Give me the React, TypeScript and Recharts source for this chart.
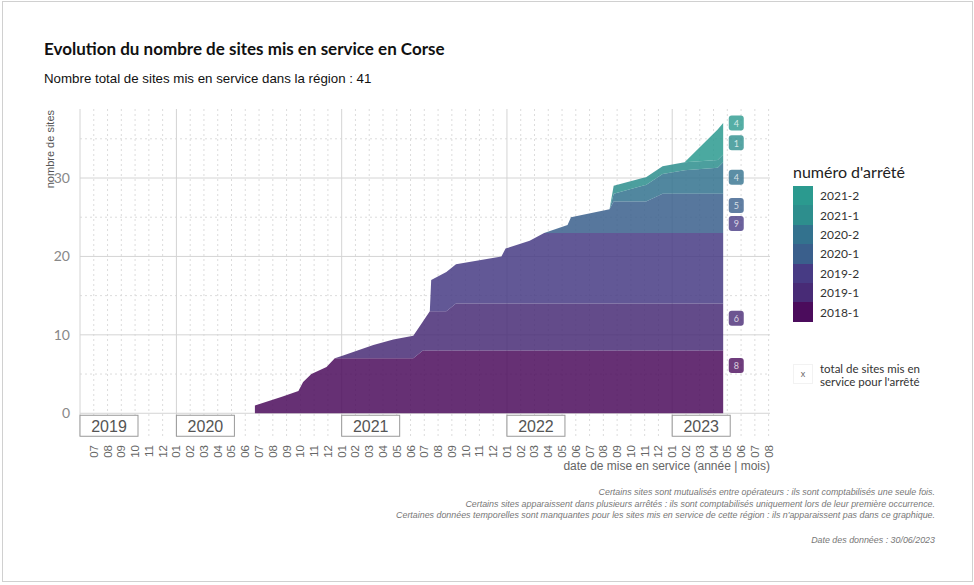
import React from 'react';
import {
  AreaChart,
  Area,
  XAxis,
  YAxis,
  CartesianGrid,
  ReferenceDot
} from 'recharts';

// months since Jan 2019 (0 = 2019-01)
const dates = [17.7, 19.66, 20.86, 21.2, 21.8, 22.9, 23.5, 24.0, 26.3, 27.75, 29.2, 29.9, 30.4, 30.5, 31.6, 32.3, 35.6, 35.9, 37.65, 38.7, 40.4, 40.65, 43.45, 43.75, 45.85, 46.1, 47.3, 48.9, 51.3, 51.7];

// cumulative sites per arrêté at each date
const s2018_1 = [1, 2.1, 2.85, 4, 5, 5.9, 7, 7, 7, 7, 7, 8, 8, 8, 8, 8, 8, 8, 8, 8, 8, 8, 8, 8, 8, 8, 8, 8, 8, 8];
const s2019_1 = [0, 0, 0, 0, 0, 0, 0, 0.3, 1.7, 2.4, 2.9, 3.7, 5, 5, 5, 6, 6, 6, 6, 6, 6, 6, 6, 6, 6, 6, 6, 6, 6, 6];
const s2019_2 = [0, 0, 0, 0, 0, 0, 0, 0, 0, 0, 0, 0, 0, 4, 5, 5, 6, 7, 8, 9, 9, 9, 9, 9, 9, 9, 9, 9, 9, 9];
const s2020_1 = [0, 0, 0, 0, 0, 0, 0, 0, 0, 0, 0, 0, 0, 0, 0, 0, 0, 0, 0, 0, 1, 2, 3, 4, 4, 4, 5, 5, 5, 5];
const s2020_2 = [0, 0, 0, 0, 0, 0, 0, 0, 0, 0, 0, 0, 0, 0, 0, 0, 0, 0, 0, 0, 0, 0, 0, 1, 2, 2.1, 2.5, 3, 3.3, 4];
const s2021_1 = [0, 0, 0, 0, 0, 0, 0, 0, 0, 0, 0, 0, 0, 0, 0, 0, 0, 0, 0, 0, 0, 0, 0, 1, 1, 1, 1, 1, 1, 1];
const s2021_2 = [0, 0, 0, 0, 0, 0, 0, 0, 0, 0, 0, 0, 0, 0, 0, 0, 0, 0, 0, 0, 0, 0, 0, 0, 0, 0, 0, 0, 3.9, 4];

const arretes = ['2018-1', '2019-1', '2019-2', '2020-1', '2020-2', '2021-1', '2021-2'];
const series = [s2018_1, s2019_1, s2019_2, s2020_1, s2020_2, s2021_1, s2021_2];
const colors = ['#4b0c5c', '#482b76', '#473b84', '#3a5f8c', '#33728e', '#2d8e8d', '#2b9a8f'];

// totals shown in the boxes on the right, and where they sit (sites)
const totals = [8, 6, 9, 5, 4, 1, 4];
const totalAt = [6.1, 12.1, 24.2, 26.5, 30.1, 34.5, 37.0];

const years = ['2019', '2020', '2021', '2022', '2023'];
const yearStart = [5, 12, 24, 36, 48];
const monthTicks = Array.from({ length: 50 }, (_, i) => i + 6);

const footnotes = [
  'Certains sites sont mutualisés entre opérateurs : ils sont comptabilisés une seule fois.',
  'Certains sites apparaissent dans plusieurs arrêtés : ils sont comptabilisés uniquement lors de leur première occurrence.',
  'Certaines données temporelles sont manquantes pour les sites mis en service de cette région : ils n\'apparaissent pas dans ce graphique.'
];

const data = dates.map((t, i) => {
  const row: Record<string, number> = { t };
  arretes.forEach((a, k) => { row[a] = series[k][i]; });
  return row;
});

const geo = 'Lato, "Noto Sans", sans-serif';
const arial = '"Liberation Sans", Arial, sans-serif';

const MonthTick = (props: any) => {
  const { x, y, payload } = props;
  const m = String((payload.value % 12) + 1).padStart(2, '0');
  return (
    <text x={x} y={y} transform={`rotate(-90, ${x}, ${y})`} textAnchor="end" dominantBaseline="central"
      fontSize={11.5} fill="#666" fontFamily={arial}>{m}</text>
  );
};

const App: React.FC = () => {
  return (
    <div style={{ position: 'absolute', left: 0, top: 0, width: 974, height: 585, background: '#fff' }}>
      <div style={{ position: 'absolute', left: 2, top: 1, width: 969, height: 579, border: '1px solid #d0d0d0' }} />
      <div style={{ position: 'absolute', left: 44, top: 38, fontFamily: geo, fontWeight: 700, fontSize: 17, color: '#111', whiteSpace: 'nowrap' }}>
        Evolution du nombre de sites mis en service en Corse
      </div>
      <div style={{ position: 'absolute', left: 44, top: 71, fontFamily: arial, fontSize: 13.3, color: '#111', whiteSpace: 'nowrap' }}>
        Nombre total de sites mis en service dans la région : 41
      </div>

      <div style={{ position: 'absolute', left: 0, top: 0 }}>
        <AreaChart width={974} height={585} data={data} margin={{ top: 109, right: 204, left: 0, bottom: 109 }}>
          <CartesianGrid stroke="#dcdcdc" strokeDasharray="2 3"
            horizontalValues={[5, 15, 25, 35]}
            verticalValues={monthTicks.filter((m) => m % 12 !== 0)} />
          <CartesianGrid stroke="#d4d4d4"
            horizontalValues={[0, 10, 20, 30]}
            verticalValues={[5, 12, 24, 36, 48]} />
          <XAxis dataKey="t" type="number" domain={[5, 55.1]} ticks={monthTicks} interval={0}
            height={40} axisLine={false} tickLine={false} tickSize={0} tickMargin={9} tick={<MonthTick />} />
          <YAxis type="number" domain={[-2.9, 38.8]} ticks={[0, 10, 20, 30]} width={80}
            axisLine={false} tickLine={false} tickMargin={4}
            tick={{ fill: '#888', fontSize: 14, fontFamily: geo }} />
          {arretes.map((a, k) => (
            <Area key={a} type="linear" dataKey={a} stackId="1" stroke="none"
              fill={colors[k]} fillOpacity={0.85} isAnimationActive={false} />
          ))}
          {years.map((y, i) => (
            <ReferenceDot key={y} x={yearStart[i]} y={0} r={0} ifOverflow="visible"
              shape={(p: any) => (
                <g>
                  <rect x={p.cx} y={p.cy + 2} width={58} height={21} fill="#fff" stroke="#999" strokeWidth={1} />
                  <text x={p.cx + 29} y={p.cy + 13} textAnchor="middle" dominantBaseline="central"
                    fontSize={16} fill="#555" fontFamily={arial}>{y}</text>
                </g>
              )} />
          ))}
          {arretes.map((a, k) => (
            <ReferenceDot key={'lbl' + a} x={52.65} y={totalAt[k]} r={0} ifOverflow="visible"
              shape={(p: any) => (
                <g>
                  <rect x={p.cx - 7.5} y={p.cy - 7.5} width={15} height={15} rx={3} fill={colors[k]} fillOpacity={0.8} />
                  <text x={p.cx} y={p.cy + 0.5} textAnchor="middle" dominantBaseline="central"
                    fontSize={9} fill="#fff" fillOpacity={0.75} fontFamily={geo}>{totals[k]}</text>
                </g>
              )} />
          ))}
        </AreaChart>
      </div>

      <svg width={974} height={585} style={{ position: 'absolute', left: 0, top: 0, pointerEvents: 'none' }}>
        <text x={50} y={110} transform="rotate(-90, 50, 110)" textAnchor="end" dominantBaseline="central"
          fontSize={11} fill="#555" fontFamily={arial}>nombre de sites</text>
        <text x={770} y={466} textAnchor="end" dominantBaseline="central"
          fontSize={12} fill="#666" fontFamily={arial}>date de mise en service (année | mois)</text>
        {footnotes.map((f, i) => (
          <text key={i} x={935} y={492 + i * 11.5} textAnchor="end" dominantBaseline="central"
            fontSize={8.9} fontStyle="italic" fill="#777" fontFamily={arial}>{f}</text>
        ))}
        <text x={935} y={540} textAnchor="end" dominantBaseline="central"
          fontSize={8.9} fontStyle="italic" fill="#777" fontFamily={arial}>Date des données : 30/06/2023</text>
        <text x={820} y={368} dominantBaseline="central" fontSize={11.5} fill="#333" fontFamily={geo}>total de sites mis en</text>
        <text x={820} y={381.5} dominantBaseline="central" fontSize={11.5} fill="#333" fontFamily={geo}>service pour l'arrêté</text>
      </svg>

      <div style={{ position: 'absolute', left: 793, top: 162, fontFamily: geo, fontSize: 16, color: '#222', whiteSpace: 'nowrap' }}>
        numéro d'arrêté
      </div>
      {arretes.slice().reverse().map((a, i) => (
        <div key={a} style={{ position: 'absolute', left: 793, top: 186 + i * 19.4, height: 19.4, display: 'flex', alignItems: 'center' }}>
          <div style={{ width: 20, height: 19.4, background: colors[arretes.length - 1 - i] }} />
          <span style={{ marginLeft: 7, fontFamily: geo, fontSize: 12, color: '#333' }}>{a}</span>
        </div>
      ))}
      <div style={{ position: 'absolute', left: 793, top: 364, width: 20, height: 20, border: '1px solid #f2f2f2', boxSizing: 'border-box',
        fontFamily: geo, fontSize: 9, color: '#666', textAlign: 'center', lineHeight: '18px' }}>x</div>
    </div>
  );
};

export default App;
